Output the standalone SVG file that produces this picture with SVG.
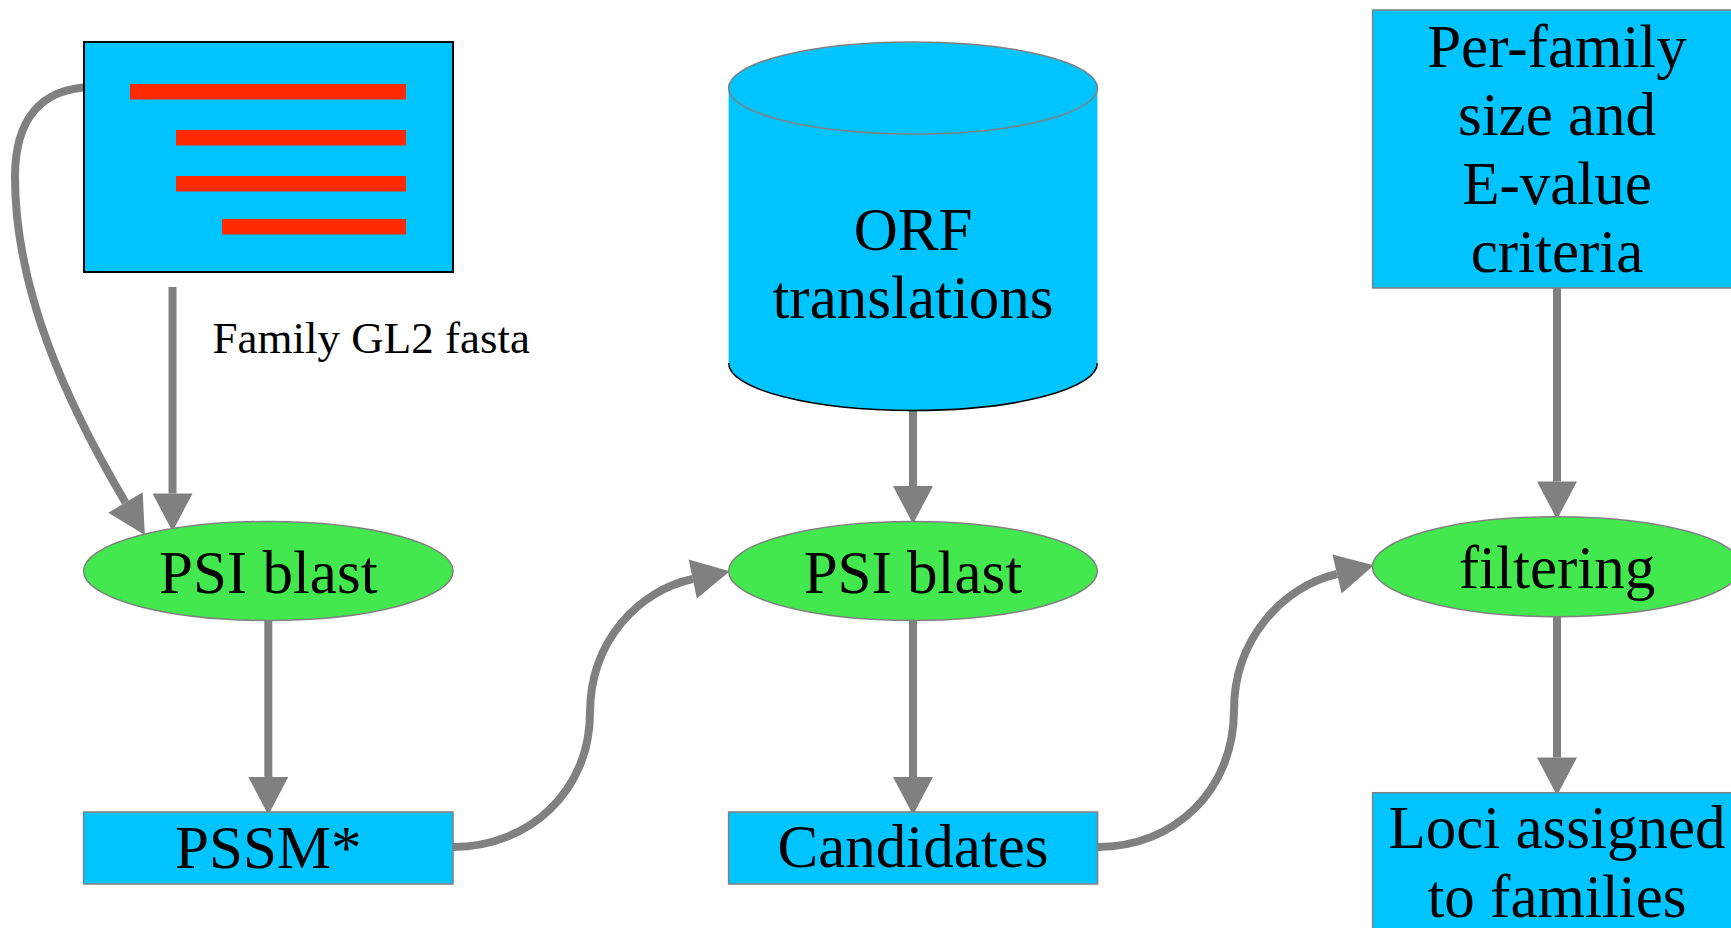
<svg xmlns="http://www.w3.org/2000/svg" width="1731" height="928" viewBox="0 0 1731 928">
<style>
.box{fill:#00c4ff;stroke:#808080;stroke-width:1.5}
.ell{fill:#43e84f;stroke:#808080;stroke-width:1.5}
.bar{fill:#ff2a00}
text{font-family:'Liberation Serif','Times New Roman','DejaVu Serif',serif;fill:#000}
.lbl{font-size:61px;text-anchor:middle}
.elbl{font-size:45px}
.edge{fill:none;stroke:#808080;stroke-width:8;marker-end:url(#ah)}
</style>
<defs>
<marker id="ah" markerUnits="userSpaceOnUse" markerWidth="40" markerHeight="40" viewBox="0 0 36 38" refX="0" refY="19" orient="auto">
<path d="M0,0 L36,19 L0,38 Z" fill="#808080"/>
</marker>
</defs>
<rect width="1731" height="928" fill="#fff"/>
<g id="connectors">
<path class="edge" d="M92,87 C40,88 15,120 15,177 C15,290 67,404 125.5,502.5"/>
<path class="edge" d="M172.5,287 L172.5,493.5"/>
<path class="edge" d="M268.3,620.5 L268.3,777"/>
<path class="edge" d="M453,847 C530,847 590,790 590,713 C590,640 640,590 692.75,579"/>
<path class="edge" d="M913,411 L913,486"/>
<path class="edge" d="M913,620.5 L913,777"/>
<path class="edge" d="M1097.4,847 C1175,847 1234,790 1234,710 C1234,640 1282,587 1337,574"/>
<path class="edge" d="M1557,288 L1557,481.5"/>
<path class="edge" d="M1557,617 L1557,757.5"/>
</g>
<g id="fasta-doc">
<rect x="84" y="42" width="369" height="230" fill="#00c4ff" stroke="#000" stroke-width="2"/>
<rect class="bar" x="130" y="84" width="276" height="15.5"/>
<rect class="bar" x="176" y="130" width="230" height="15.5"/>
<rect class="bar" x="176" y="176" width="230" height="15.5"/>
<rect class="bar" x="222" y="219" width="184" height="15.5"/>
</g>
<g id="edge-label">
<text class="elbl" x="212.5" y="353" font-family="Liberation Serif, serif">Family GL2 fasta</text>
</g>
<g id="psi-blast-1">
<ellipse class="ell" cx="268.3" cy="571" rx="184.8" ry="49.5"/>
<text class="lbl" x="268.3" y="592.5">PSI blast</text>
</g>
<g id="pssm">
<rect class="box" x="83.6" y="812" width="369.4" height="72"/>
<text class="lbl" x="268.3" y="868">PSSM*</text>
</g>
<g id="orf-db">
<path d="M728.6,88 L728.6,363 A184.4,47.5 0 0 0 1097.4,363 L1097.4,88 Z" fill="#00c4ff"/>
<path d="M728.6,363 A184.4,47.5 0 0 0 1097.4,363" fill="none" stroke="#000" stroke-width="1.5"/>
<ellipse class="box" cx="913" cy="88" rx="184.4" ry="46"/>
<text class="lbl" x="913" y="250">ORF</text>
<text class="lbl" x="913" y="318">translations</text>
</g>
<g id="psi-blast-2">
<ellipse class="ell" cx="913" cy="571" rx="184.4" ry="49.5"/>
<text class="lbl" x="913" y="592.5">PSI blast</text>
</g>
<g id="candidates">
<rect class="box" x="728.6" y="812" width="369" height="72"/>
<text class="lbl" x="913" y="867">Candidates</text>
</g>
<g id="criteria">
<rect class="box" x="1372.6" y="10" width="369" height="278"/>
<text class="lbl" x="1557" y="66.5">Per-family</text>
<text class="lbl" x="1557" y="135">size and</text>
<text class="lbl" x="1557" y="203.5">E-value</text>
<text class="lbl" x="1557" y="272">criteria</text>
</g>
<g id="filtering">
<ellipse class="ell" cx="1557" cy="566.7" rx="184.6" ry="50"/>
<text class="lbl" x="1557" y="588">filtering</text>
</g>
<g id="loci">
<rect class="box" x="1372.6" y="792.7" width="369" height="150"/>
<text class="lbl" x="1557" y="848">Loci assigned</text>
<text class="lbl" x="1557" y="916.5">to families</text>
</g>
</svg>
